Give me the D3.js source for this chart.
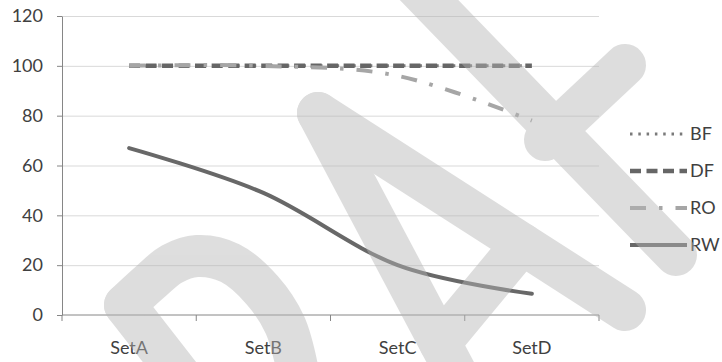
<!DOCTYPE html>
<html>
<head>
<meta charset="utf-8">
<script src="https://cdn.jsdelivr.net/npm/d3@7"></script>
<style>
  html, body { margin: 0; padding: 0; background: #fff; }
  svg { display: block; font-family: Lato, "Open Sans", sans-serif; }
</style>
</head>
<body>
<svg id="chart" width="722" height="362"></svg>
<script>
// ---- data ----
const categories = ["SetA", "SetB", "SetC", "SetD"];
const seriesNames = ["BF", "DF", "RO", "RW"];
const bfValues = [100, 100, 100, 100];
const dfValues = [100, 100, 100, 100];
const roValues = [100, 100, 96, 78];
const rwValues = [67, 49, 20, 8.5];
const yTicks = [0, 20, 40, 60, 80, 100, 120];

// ---- layout ----
const W = 722, H = 362;
const plot = { left: 62, right: 599, top: 16, bottom: 315 };

const svg = d3.select("#chart");

const x = d3.scaleBand().domain(categories).range([plot.left, plot.right]);
const y = d3.scaleLinear().domain([0, 120]).range([plot.bottom, plot.top]);
const cx = c => x(c) + x.bandwidth() / 2;

// gridlines
svg.append("g")
  .attr("transform", `translate(${plot.left},0)`)
  .call(d3.axisLeft(y).tickValues(yTicks.filter(v => v > 0))
    .tickSize(-(plot.right - plot.left)).tickFormat(""))
  .call(g => g.select(".domain").remove())
  .call(g => g.selectAll("line").attr("stroke", "#d9d9d9").attr("stroke-width", 1));

// y axis
svg.append("g")
  .attr("transform", `translate(${plot.left},0)`)
  .call(d3.axisLeft(y).tickValues(yTicks).tickSize(5).tickPadding(14).tickSizeOuter(0))
  .call(g => g.select(".domain").attr("stroke", "#868686"))
  .call(g => g.selectAll(".tick line").attr("stroke", "#868686"))
  .call(g => g.selectAll("text")
    .attr("fill", "#404040").attr("font-size", 18)
    .attr("font-family", "Lato, 'Open Sans', sans-serif"));

// x axis: baseline, category boundary ticks and labels
const xAxis = svg.append("g").attr("transform", `translate(0,${plot.bottom})`);
xAxis.append("line")
  .attr("x1", plot.left).attr("x2", plot.right)
  .attr("stroke", "#868686");
const bounds = categories.map(c => x(c)).concat([x(categories[categories.length - 1]) + x.step()]);
xAxis.selectAll("line.tk").data(bounds).join("line")
  .attr("class", "tk")
  .attr("x1", d => d).attr("x2", d => d)
  .attr("y1", 0).attr("y2", 6)
  .attr("stroke", "#868686");
xAxis.selectAll("text").data(categories).join("text")
  .attr("x", d => cx(d)).attr("y", 39)
  .attr("text-anchor", "middle")
  .attr("fill", "#404040").attr("font-size", 18)
  .text(d => d);

// ---- series ----
const styles = {
  BF: { values: bfValues, color: "#7a7a7a", width: 3,   dash: "2.5,5.8", cap: "butt" },
  DF: { values: dfValues, color: "#666666", width: 4.5, dash: "11,5.5",  cap: "butt" },
  RO: { values: roValues, color: "#a6a6a6", width: 4,   dash: "16,13,3.5,13", cap: "butt" },
  RW: { values: rwValues, color: "#686868", width: 4,   dash: null,      cap: "round" }
};

const line = d3.line()
  .x((d, i) => cx(categories[i]))
  .y(d => y(d))
  .curve(d3.curveCardinal.tension(0));

const seriesG = svg.append("g");
seriesNames.forEach(name => {
  const s = styles[name];
  seriesG.append("path")
    .attr("d", line(s.values))
    .attr("fill", "none")
    .attr("stroke", s.color)
    .attr("stroke-width", s.width)
    .attr("stroke-linecap", s.cap)
    .attr("stroke-dasharray", s.dash);
});

// ---- legend ----
const legend = svg.append("g").attr("transform", "translate(630,0)");
const legendRows = [134, 171, 208, 245];
seriesNames.forEach((name, i) => {
  const s = styles[name];
  const row = legend.append("g").attr("transform", `translate(0,${legendRows[i]})`);
  row.append("line")
    .attr("x1", 0).attr("x2", 57)
    .attr("stroke", s.color)
    .attr("stroke-width", s.width)
    .attr("stroke-linecap", "butt")
    .attr("stroke-dasharray", s.dash);
  row.append("text")
    .attr("x", 60).attr("y", 0).attr("dy", "0.36em")
    .attr("fill", "#404040").attr("font-size", 18)
    .text(name);
});

// ---- DRAFT watermark overlay ----
const stamp = [
  { pts: [[125, 305], [185, 382]], smooth: false },
  { pts: [[125, 305], [150, 282], [172, 264], [197, 256], [230, 263], [262, 290], [285, 325], [298, 372]], smooth: true },
  { pts: [[318, 113], [465, 390]], smooth: false },
  { pts: [[318, 113], [625, 310]], smooth: false },
  { pts: [[440, 343], [522, 244]], smooth: false },
  { pts: [[400, -30], [676, 255]], smooth: false },
  { pts: [[545, 140], [625, 65]], smooth: false }
];
const stampLine = d3.line();
const stampCurve = d3.line().curve(d3.curveCatmullRom);
const mark = svg.append("g").attr("opacity", 0.45);
stamp.forEach(s => {
  mark.append("path")
    .attr("d", (s.smooth ? stampCurve : stampLine)(s.pts))
    .attr("fill", "none")
    .attr("stroke", "#b5b5b5")
    .attr("stroke-width", 42)
    .attr("stroke-linecap", "round")
    .attr("stroke-linejoin", "round");
});
</script>
</body>
</html>
